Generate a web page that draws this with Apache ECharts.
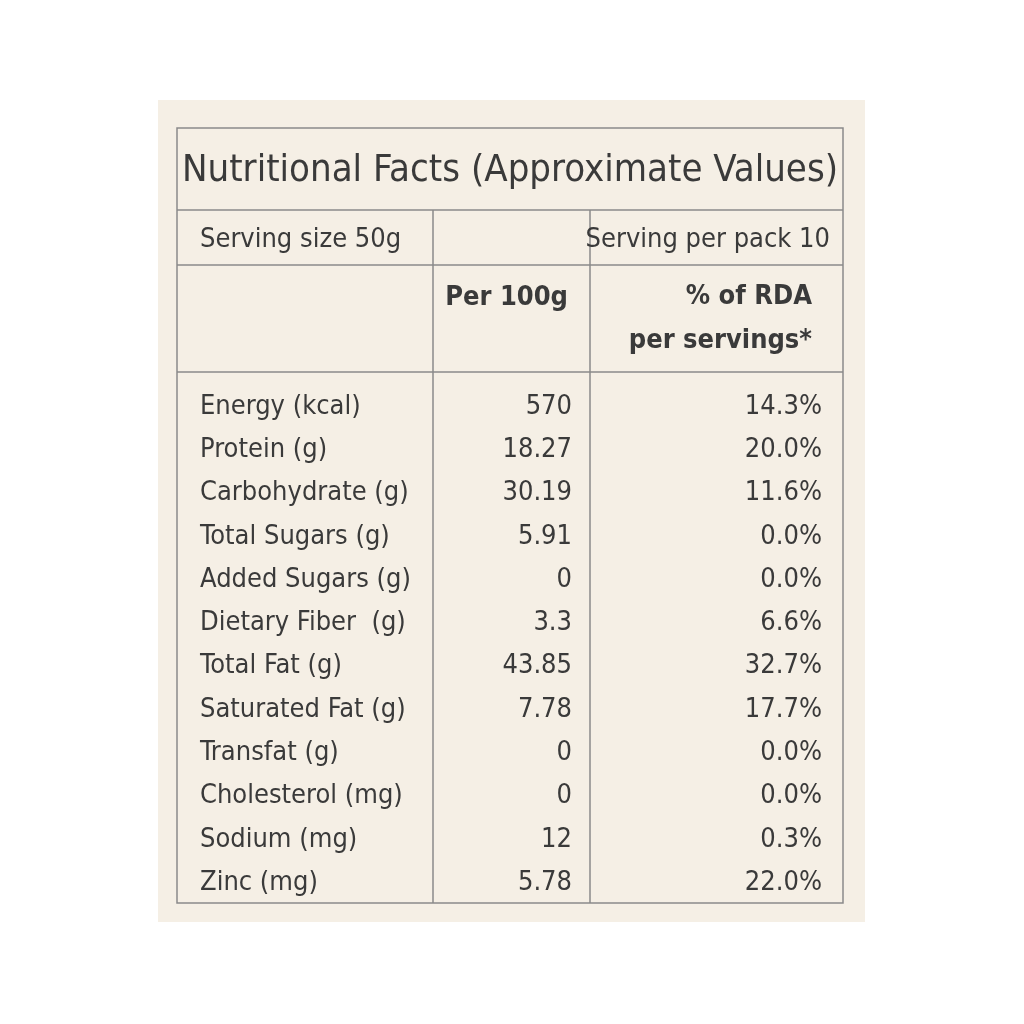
<!DOCTYPE html>
<html><head><meta charset="utf-8">
<script src="https://cdn.jsdelivr.net/npm/echarts@6/dist/echarts.min.js"></script>
<style>html,body{margin:0;padding:0;background:#fff}#c{width:1024px;height:1024px}</style>
</head><body><div id="c"></div>
<script>
const title = "Nutritional Facts (Approximate Values)";
const servingSize = "Serving size 50g";
const servingPack = "Serving per pack 10";
const colHeaders = ["Per 100g", "% of RDA\nper servings*"];
const nutrients = ["Energy (kcal)","Protein (g)","Carbohydrate (g)","Total Sugars (g)","Added Sugars (g)","Dietary Fiber  (g)","Total Fat (g)","Saturated Fat (g)","Transfat (g)","Cholesterol (mg)","Sodium (mg)","Zinc (mg)"];
const per100g = ["570","18.27","30.19","5.91","0","3.3","43.85","7.78","0","0","12","5.78"];
const rda = ["14.3%","20.0%","11.6%","0.0%","0.0%","6.6%","32.7%","17.7%","0.0%","0.0%","0.3%","22.0%"];

const font = '"Liberation Sans Narrow","DejaVu Sans Condensed","Roboto Condensed",sans-serif';
const col = '#3a3a3a', line = '#8a8a8a';
const L=177,R=843,T=128,B=903,c1=433,c2=590;
const yTitle=210,yServ=265,yHead=372,rowTop=385,rowH=43.3;
const g=[];
g.push({type:'rect',shape:{x:158,y:100,width:707,height:822},style:{fill:'#f5efe5'}});
g.push({type:'rect',shape:{x:L,y:T,width:R-L,height:B-T},style:{fill:'none',stroke:line,lineWidth:1.5}});
[[L,yTitle,R,yTitle],[L,yServ,R,yServ],[L,yHead,R,yHead],[c1,yTitle,c1,B],[c2,yTitle,c2,B]].forEach(p=>
 g.push({type:'line',shape:{x1:p[0],y1:p[1],x2:p[2],y2:p[3]},style:{stroke:line,lineWidth:1.5}}));
function txt(s,x,y,size,align,weight,lh){g.push({type:'text',x:x,y:y,style:{text:s,fill:col,font:(weight||'normal')+' '+size+'px '+font,textAlign:align,textVerticalAlign:'middle',lineHeight:lh||size*1.3}});}
txt(title,(L+R)/2,171,38,'center');
txt(servingSize,200,240,27,'left');
txt(servingPack,830,240,27,'right');
txt(colHeaders[0],568,298,27,'right','bold');
g.push({type:'text',x:812,y:319,style:{text:colHeaders[1],fill:col,font:'bold 27px '+font,textAlign:'right',textVerticalAlign:'middle',lineHeight:44}});
nutrients.forEach((n,i)=>{const y=rowTop+rowH*(i+0.5);
 txt(n,200,y,27,'left');txt(per100g[i],572,y,27,'right');txt(rda[i],822,y,27,'right');});
const ch=echarts.init(document.getElementById('c'));
ch.setOption({animation:false,graphic:g});
</script></body></html>
